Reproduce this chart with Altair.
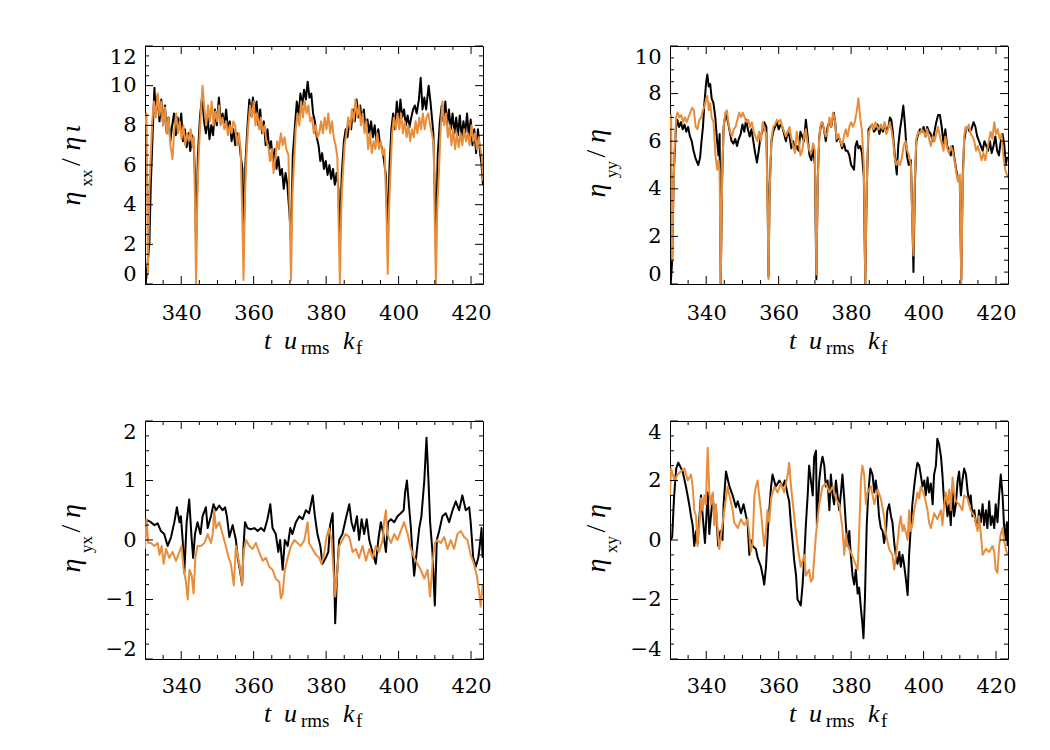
import altair as alt
import pandas as pd

# ---------------- data (t, value) ----------------
TL_BLACK = [(330.2,0.0),(330.7,1.0),(331.2,2.0),(331.6,5.0),(332.0,7.0),(332.6,9.9),(333.0,8.6),(333.5,9.5),(334.0,8.2),(334.5,9.3),(335.0,8.0),(335.5,9.0),(336.0,7.6),(336.5,8.4),(337.0,7.2),(337.5,8.0),(338.0,8.6),(338.5,7.5),(339.0,8.4),(339.5,7.8),(340.0,8.6),(340.5,7.2),(341.0,7.8),(341.5,6.9),(342.0,7.6),(342.5,6.7),(343.0,7.5),(343.5,6.8),(343.8,5.5),(344.1,2.0),(344.6,6.5),(345.2,8.5),(345.8,9.5),(346.3,8.2),(346.8,7.6),(347.3,8.4),(347.8,7.3),(348.3,8.0),(348.8,7.5),(349.3,8.8),(349.8,8.0),(350.4,9.4),(350.9,8.1),(351.4,8.6),(351.9,8.0),(352.4,8.8),(352.9,7.8),(353.4,8.2),(353.9,7.2),(354.4,7.8),(354.9,7.0),(355.4,7.6),(355.9,7.4),(356.4,6.5),(356.9,5.8),(357.2,2.0),(357.7,6.0),(358.3,8.0),(358.8,9.3),(359.3,8.5),(359.8,9.4),(360.3,8.6),(360.8,9.2),(361.3,8.0),(361.8,8.8),(362.3,7.6),(362.8,8.2),(363.3,7.0),(363.8,7.8),(364.3,6.8),(364.8,7.2),(365.3,6.2),(365.8,6.8),(366.3,5.8),(366.8,6.4),(367.3,5.5),(367.8,5.8),(368.3,4.8),(368.8,5.6),(369.3,5.0),(369.9,3.5),(370.3,2.3),(370.8,6.5),(371.4,8.0),(371.9,9.2),(372.4,8.5),(372.9,9.6),(373.4,9.0),(373.9,9.8),(374.4,9.3),(374.9,10.2),(375.4,9.4),(375.9,9.6),(376.4,8.6),(376.9,8.2),(377.4,7.4),(377.9,7.0),(378.4,6.2),(378.9,6.6),(379.4,5.8),(379.9,6.2),(380.4,5.5),(380.9,6.0),(381.4,5.3),(381.9,5.8),(382.4,5.0),(382.9,5.6),(383.4,4.8),(383.8,2.2),(384.3,5.5),(384.9,7.2),(385.4,7.8),(385.9,7.4),(386.4,8.2),(386.9,7.8),(387.4,8.8),(387.9,8.2),(388.4,9.3),(388.9,8.4),(389.4,9.0),(389.9,8.2),(390.4,8.8),(390.9,7.8),(391.4,8.3),(391.9,7.6),(392.4,8.2),(392.9,7.4),(393.4,8.0),(393.9,7.2),(394.4,7.8),(394.9,7.0),(395.4,6.9),(395.9,6.3),(396.5,5.5),(397.0,2.3),(397.5,6.0),(398.0,7.8),(398.5,8.6),(399.0,7.8),(399.5,9.2),(400.0,8.2),(400.5,9.3),(401.0,8.4),(401.5,8.8),(402.0,8.0),(402.5,8.5),(403.0,7.9),(403.5,8.4),(404.0,8.8),(404.5,9.0),(405.0,8.6),(405.6,9.3),(406.1,10.4),(406.6,8.8),(407.1,9.4),(407.6,8.8),(408.3,10.0),(408.8,9.2),(409.2,8.4),(409.6,7.6),(410.0,4.5),(410.3,2.0),(410.8,6.5),(411.4,8.2),(411.9,9.0),(412.4,8.2),(412.9,9.2),(413.4,8.0),(413.9,8.8),(414.4,7.8),(414.9,8.6),(415.4,7.6),(415.9,8.4),(416.4,7.5),(416.9,8.5),(417.4,7.4),(417.9,8.2),(418.4,7.6),(418.9,8.6),(419.4,7.4),(419.9,8.3),(420.4,7.0),(420.9,7.8),(421.4,6.6),(421.9,7.8),(422.4,6.8),(422.9,6.0),(423.3,5.0)]

TL_ORANGE = [(330.0,8.0),(330.4,8.6),(330.8,0.5),(331.2,4.8),(331.6,6.5),(332.0,8.2),(332.5,9.2),(333.0,8.4),(333.5,9.6),(334.0,8.5),(334.5,9.2),(335.0,8.0),(335.5,8.9),(336.0,7.6),(336.5,8.4),(337.0,7.0),(337.6,6.3),(338.1,7.8),(338.6,8.6),(339.1,7.6),(339.6,8.2),(340.1,7.3),(340.6,8.0),(341.1,7.0),(341.6,7.6),(342.1,7.2),(342.6,7.8),(343.1,7.0),(343.5,7.4),(343.8,4.0),(344.1,0.0),(344.5,5.0),(344.9,6.8),(345.4,8.6),(345.9,10.0),(346.4,8.8),(346.9,8.0),(347.4,9.0),(347.9,8.2),(348.4,9.2),(348.9,8.0),(349.4,8.7),(349.9,8.2),(350.4,9.0),(350.9,8.0),(351.4,8.4),(351.9,7.8),(352.4,8.2),(352.9,7.5),(353.4,8.0),(353.9,7.6),(354.4,8.2),(354.9,8.0),(355.4,7.0),(355.9,7.6),(356.4,6.8),(356.9,3.0),(357.2,0.2),(357.6,4.5),(358.0,6.5),(358.5,8.0),(359.0,9.0),(359.5,8.4),(360.0,9.2),(360.5,8.0),(361.0,8.6),(361.5,7.8),(362.0,8.4),(362.5,7.6),(363.0,8.0),(363.5,7.2),(364.0,7.0),(364.5,6.2),(365.0,6.8),(365.5,5.6),(366.0,6.4),(366.5,7.2),(367.0,6.8),(367.5,7.6),(368.0,7.0),(368.5,7.4),(369.0,6.8),(369.6,6.5),(370.0,3.0),(370.3,0.2),(370.7,4.5),(371.1,6.0),(371.6,7.8),(372.1,8.6),(372.6,8.0),(373.1,9.2),(373.6,8.4),(374.1,9.2),(374.6,8.6),(375.1,9.0),(375.6,8.2),(376.1,8.4),(376.6,7.6),(377.1,8.0),(377.6,7.4),(378.1,7.6),(378.6,8.2),(379.1,7.6),(379.6,8.4),(380.1,7.8),(380.6,8.6),(381.1,7.6),(381.6,8.2),(382.1,7.4),(382.6,7.0),(383.1,6.4),(383.5,2.5),(383.8,0.0),(384.2,4.0),(384.6,5.5),(385.1,7.0),(385.6,7.6),(386.1,8.4),(386.6,7.8),(387.1,8.8),(387.6,8.2),(388.1,9.3),(388.6,8.4),(389.1,9.0),(389.6,8.0),(390.1,8.6),(390.6,7.6),(391.1,8.2),(391.6,6.8),(392.1,7.6),(392.6,6.6),(393.1,7.2),(393.6,6.8),(394.1,7.6),(394.6,6.8),(395.1,7.2),(395.6,6.5),(396.1,6.8),(396.6,4.0),(397.0,0.5),(397.4,4.0),(397.8,5.8),(398.2,7.6),(398.7,8.4),(399.2,7.8),(399.7,8.6),(400.2,7.8),(400.7,8.6),(401.2,7.6),(401.7,8.2),(402.2,7.4),(402.7,8.0),(403.2,7.2),(403.7,7.8),(404.2,7.4),(404.7,8.2),(405.2,7.6),(405.7,8.4),(406.2,7.8),(406.7,8.6),(407.2,7.8),(407.7,8.4),(408.2,8.6),(408.7,8.0),(409.2,7.6),(409.7,7.0),(410.0,3.0),(410.3,0.0),(410.7,4.0),(411.1,5.5),(411.6,7.8),(412.1,9.2),(412.6,8.0),(413.1,8.6),(413.6,7.4),(414.1,8.0),(414.6,7.0),(415.1,7.8),(415.6,6.8),(416.1,7.6),(416.6,6.9),(417.1,7.6),(417.6,7.0),(418.1,7.8),(418.6,7.2),(419.1,7.6),(419.6,7.0),(420.1,8.0),(420.6,7.2),(421.1,7.6),(421.6,6.8),(422.1,7.4),(422.6,6.8),(423.0,6.4),(423.3,5.2)]

TR_BLACK = [(330.2,0.0),(330.6,1.0),(331.0,4.5),(331.6,6.5),(332.0,6.9),(332.5,6.6),(333.0,6.8),(333.5,6.5),(334.0,6.7),(334.5,6.4),(335.0,6.6),(335.5,6.2),(336.0,6.0),(336.5,5.6),(337.0,5.3),(337.8,5.0),(338.3,5.3),(338.7,6.0),(339.1,6.6),(339.5,7.6),(340.0,8.5),(340.3,8.8),(340.7,8.3),(341.1,8.4),(341.5,7.8),(342.0,7.6),(342.5,7.0),(343.0,6.0),(343.4,5.4),(343.7,6.3),(344.0,0.0),(344.4,4.5),(344.8,6.6),(345.4,7.2),(346.0,6.8),(346.5,6.4),(347.0,6.0),(347.5,5.9),(348.0,6.1),(348.5,5.8),(349.0,6.1),(349.5,6.3),(350.0,6.7),(350.5,6.4),(351.0,6.9),(351.5,6.5),(352.0,6.2),(352.5,6.5),(353.0,6.0),(353.5,5.5),(354.0,5.1),(354.5,5.6),(355.0,6.2),(355.5,6.4),(356.0,6.8),(356.6,6.6),(357.0,3.0),(357.2,0.3),(357.5,4.0),(358.0,6.0),(358.5,6.4),(359.0,6.6),(359.5,6.8),(360.0,6.5),(360.5,6.7),(361.0,6.6),(361.5,6.3),(362.0,6.0),(362.5,6.4),(363.0,6.2),(363.5,5.7),(364.0,6.0),(364.5,5.6),(365.0,5.8),(365.5,5.6),(366.0,6.4),(366.5,6.2),(367.0,6.0),(367.5,6.9),(368.0,6.2),(368.5,5.4),(369.0,5.2),(369.5,5.7),(370.0,5.0),(370.4,0.2),(370.8,4.5),(371.2,6.2),(371.6,6.6),(372.0,6.8),(372.5,6.5),(373.0,6.0),(373.5,6.6),(374.0,6.8),(374.5,6.6),(375.2,7.2),(375.6,6.8),(376.0,6.0),(376.5,6.2),(377.0,6.0),(377.5,5.7),(378.0,5.9),(378.5,5.6),(379.0,5.6),(379.5,5.4),(380.0,5.0),(380.8,4.8),(381.2,5.8),(381.6,6.0),(382.0,5.7),(382.5,5.8),(383.0,5.5),(383.5,4.5),(383.9,0.0),(384.3,4.0),(384.8,6.5),(385.3,6.6),(385.8,6.7),(386.3,6.4),(386.8,6.5),(387.3,6.7),(387.8,6.3),(388.3,6.6),(388.8,6.4),(389.3,6.7),(389.8,6.4),(390.3,6.6),(390.7,7.0),(391.1,6.9),(391.5,6.4),(392.0,5.5),(392.6,4.6),(393.0,5.8),(393.5,6.5),(394.0,7.0),(394.4,7.5),(394.9,6.6),(395.4,5.4),(395.9,5.0),(396.5,5.2),(397.0,2.0),(397.2,0.5),(397.6,4.2),(398.0,6.0),(398.5,6.3),(399.0,6.5),(399.5,6.4),(400.0,6.6),(400.5,6.2),(401.0,6.6),(401.5,6.4),(402.0,6.3),(402.5,6.0),(403.0,6.4),(403.5,6.8),(404.0,7.1),(404.5,7.1),(405.0,6.6),(405.5,5.9),(406.0,6.5),(406.5,5.8),(407.0,5.6),(407.5,5.4),(408.0,5.8),(408.5,5.3),(409.0,4.8),(409.5,4.4),(410.0,4.3),(410.4,0.2),(410.8,4.5),(411.2,6.0),(411.7,6.5),(412.2,6.6),(412.7,6.4),(413.2,6.5),(413.8,6.8),(414.3,6.6),(414.8,6.2),(415.3,6.0),(415.8,5.8),(416.3,5.6),(416.8,6.0),(417.3,5.8),(417.8,5.6),(418.3,6.0),(418.8,5.5),(419.3,5.8),(419.8,6.2),(420.3,5.6),(420.8,5.4),(421.3,6.0),(421.8,6.3),(422.3,5.8),(422.7,5.0),(423.0,5.3),(423.3,5.3)]

TR_ORANGE = [(330.0,6.5),(330.3,7.1),(330.6,1.0),(331.2,5.5),(331.7,7.0),(332.1,7.2),(332.6,7.0),(333.1,7.1),(333.6,6.8),(334.1,7.0),(334.6,6.8),(335.1,7.0),(335.6,7.2),(336.1,7.4),(336.6,7.3),(337.1,6.6),(337.6,6.5),(338.1,6.9),(338.6,7.0),(339.1,7.3),(339.6,7.5),(340.0,7.8),(340.3,7.9),(340.7,7.3),(341.1,7.6),(341.5,7.0),(342.0,6.8),(342.5,5.5),(343.0,4.8),(343.4,5.2),(343.7,4.7),(344.0,0.0),(344.4,4.5),(344.8,6.6),(345.3,7.2),(345.7,7.3),(346.1,6.8),(346.6,6.4),(347.1,6.2),(347.6,6.5),(348.1,6.6),(348.6,6.9),(349.1,7.2),(349.6,7.0),(350.1,7.2),(350.6,7.0),(351.1,6.8),(351.6,6.9),(352.1,6.6),(352.6,6.8),(353.1,6.4),(353.6,6.2),(354.1,6.0),(354.6,6.4),(355.1,6.0),(355.6,6.8),(356.1,6.5),(356.6,6.3),(357.0,2.5),(357.2,0.2),(357.5,3.8),(358.0,6.1),(358.5,6.6),(359.0,6.7),(359.5,6.9),(360.0,6.8),(360.5,6.9),(361.0,6.6),(361.5,6.4),(362.0,6.2),(362.5,6.4),(363.0,6.6),(363.5,6.1),(364.0,5.8),(364.5,5.5),(365.0,6.4),(365.5,6.0),(366.0,5.4),(366.5,5.6),(367.0,6.2),(367.5,6.5),(368.0,5.9),(368.5,5.6),(369.0,5.5),(369.5,5.9),(370.0,5.6),(370.4,0.4),(370.8,4.4),(371.2,6.2),(371.6,6.7),(372.0,6.8),(372.5,6.5),(373.0,6.2),(373.5,6.4),(374.0,7.0),(374.5,6.6),(375.0,7.2),(375.5,6.9),(376.0,6.1),(376.5,6.3),(377.0,6.0),(377.5,5.8),(378.0,6.2),(378.5,6.5),(379.0,6.2),(379.5,6.6),(380.0,6.8),(380.5,6.6),(381.0,6.8),(381.5,7.2),(382.0,7.8),(382.5,7.0),(383.0,6.4),(383.5,5.0),(383.9,0.0),(384.3,4.0),(384.7,6.3),(385.2,6.5),(385.7,6.7),(386.2,6.5),(386.7,6.8),(387.2,6.6),(387.7,6.5),(388.2,6.7),(388.7,6.5),(389.2,6.8),(389.7,6.3),(390.2,6.5),(390.7,6.8),(391.2,6.4),(391.6,6.0),(392.0,5.3),(392.5,5.0),(393.0,5.2),(393.5,5.0),(394.0,5.3),(394.5,5.8),(395.0,6.0),(395.5,5.6),(396.0,5.4),(396.5,5.0),(397.0,2.0),(397.2,1.2),(397.6,4.5),(398.0,6.1),(398.5,6.4),(399.0,6.3),(399.5,6.5),(400.0,6.4),(400.5,6.2),(401.0,6.5),(401.5,6.1),(402.0,5.8),(402.5,6.2),(403.0,6.0),(403.5,6.3),(404.0,6.6),(404.5,6.2),(405.0,5.9),(405.5,5.6),(406.0,6.2),(406.5,5.7),(407.0,5.5),(407.5,5.8),(408.0,5.6),(408.5,5.2),(409.0,4.7),(409.5,4.3),(410.0,4.6),(410.4,0.0),(410.8,4.2),(411.2,6.2),(411.6,6.6),(412.0,6.5),(412.5,6.7),(413.0,6.3),(413.5,6.2),(414.0,6.0),(414.5,5.6),(415.0,5.8),(415.5,5.5),(416.0,5.2),(416.5,5.5),(417.0,5.2),(417.5,5.6),(418.0,6.0),(418.5,6.4),(419.0,6.1),(419.5,6.8),(420.0,6.3),(420.5,6.5),(421.0,6.1),(421.5,6.3),(422.0,5.4),(422.5,4.8),(423.0,4.6),(423.3,4.5)]

BL_BLACK = [(330.0,0.3),(330.7,0.33),(331.65,0.3),(332.6,0.25),(333.5,0.28),(334.4,0.15),(335.3,0.1),(336.25,-0.1),(337.2,0.05),(338.1,0.3),(338.8,0.55),(339.5,0.3),(339.9,0.4),(340.4,0.0),(340.85,-0.55),(341.5,0.3),(342.2,0.68),(342.9,0.0),(343.3,-0.3),(343.8,0.1),(344.5,0.3),(345.3,0.1),(345.9,0.4),(346.8,0.55),(347.3,0.2),(348.2,0.4),(348.9,0.6),(349.6,0.5),(350.5,0.58),(351.4,0.5),(352.1,0.55),(352.6,0.4),(353.3,0.05),(354.2,0.25),(355.1,0.0),(355.6,-0.3),(356.2,-0.5),(356.8,-0.75),(357.2,-0.1),(357.6,0.3),(358.3,0.2),(359.2,0.18),(360.2,0.2),(361.1,0.15),(362.0,0.2),(362.9,0.15),(363.8,0.35),(364.6,0.6),(365.2,0.2),(366.1,0.1),(366.8,-0.2),(367.3,0.0),(368.0,-0.5),(368.6,0.0),(369.4,-0.1),(370.1,0.2),(370.7,0.1),(371.65,0.3),(372.6,0.4),(373.5,0.35),(374.4,0.5),(375.3,0.45),(376.3,0.75),(376.9,0.4),(377.6,0.1),(378.4,-0.1),(379.0,-0.4),(379.9,-0.3),(380.6,-0.2),(381.1,0.25),(381.8,0.45),(382.2,-0.5),(382.5,-1.4),(383.0,-0.6),(383.6,0.0),(384.5,0.1),(385.4,0.35),(386.4,0.6),(387.0,0.3),(387.7,0.15),(388.5,0.4),(389.1,0.0),(389.8,0.35),(390.5,0.1),(391.2,0.35),(391.9,0.0),(392.8,-0.2),(393.7,-0.4),(394.4,0.0),(395.1,0.3),(395.8,0.1),(396.5,-0.2),(397.1,0.3),(397.9,0.35),(398.8,0.3),(399.7,0.4),(400.6,0.45),(401.4,0.5),(401.8,0.8),(402.3,1.0),(402.7,0.7),(403.4,0.2),(403.8,-0.2),(404.3,-0.6),(405.0,-0.2),(405.7,0.2),(406.3,0.4),(407.1,1.0),(407.7,1.72),(408.25,1.0),(408.7,0.3),(409.35,-0.2),(410.0,-1.1),(410.55,0.0),(411.2,0.15),(412.1,0.4),(413.0,0.45),(413.95,0.3),(414.9,0.5),(415.8,0.65),(416.7,0.5),(417.6,0.75),(418.55,0.5),(419.5,0.55),(419.9,0.3),(420.6,-0.3),(421.3,-0.45),(422.0,-0.3),(422.5,-0.05),(422.9,0.2),(423.2,-0.3)]

BL_ORANGE = [(330.0,-0.15),(330.4,0.35),(330.9,-0.05),(331.65,-0.05),(332.6,-0.1),(333.5,-0.05),(334.0,-0.25),(334.6,-0.1),(335.15,-0.4),(335.8,-0.15),(336.7,-0.3),(337.6,-0.2),(338.55,-0.35),(339.5,-0.2),(340.1,-0.1),(340.7,-0.5),(341.3,-0.7),(341.8,-1.0),(342.3,-0.5),(342.9,-0.6),(343.4,-0.9),(343.9,-0.3),(344.5,-0.1),(345.45,-0.1),(346.4,-0.05),(347.3,0.1),(348.2,-0.05),(348.7,0.1),(349.1,0.5),(349.6,0.2),(350.5,0.3),(351.4,0.1),(352.3,-0.1),(353.1,-0.3),(353.7,-0.4),(354.5,-0.76),(355.1,-0.1),(355.7,-0.3),(356.3,-0.5),(356.8,-0.75),(357.2,-0.2),(357.9,0.0),(358.8,-0.1),(359.7,-0.15),(360.6,-0.05),(361.5,-0.2),(362.5,-0.35),(363.4,-0.3),(364.3,-0.45),(365.2,-0.5),(366.1,-0.65),(367.05,-0.7),(367.5,-0.98),(368.0,-0.9),(368.6,-0.5),(369.4,-0.3),(370.3,-0.1),(371.2,0.0),(372.1,-0.05),(373.0,-0.1),(374.0,0.0),(374.9,0.3),(375.3,-0.05),(376.25,-0.15),(377.2,-0.25),(378.1,-0.3),(378.7,-0.4),(379.4,-0.25),(380.1,0.05),(380.8,0.2),(381.5,0.0),(382.0,-0.5),(382.5,-0.95),(383.0,-0.6),(383.6,-0.1),(384.5,0.0),(385.4,0.1),(386.4,0.05),(387.3,-0.2),(388.2,-0.15),(389.1,-0.3),(390.05,-0.1),(391.0,-0.35),(391.9,-0.15),(392.8,-0.3),(393.7,-0.1),(394.6,-0.2),(395.6,0.0),(396.0,0.3),(396.5,0.5),(396.9,0.1),(397.9,-0.05),(398.8,0.1),(399.7,0.0),(400.6,0.15),(401.5,0.3),(402.5,0.1),(403.4,-0.15),(404.3,-0.3),(405.2,-0.4),(406.1,-0.5),(407.1,-0.65),(408.0,-0.5),(408.7,-0.95),(409.35,-0.4),(410.0,-0.05),(410.7,0.0),(411.65,-0.05),(412.6,0.05),(413.5,-0.15),(414.4,0.0),(415.3,-0.15),(416.25,0.1),(417.2,0.15),(418.1,0.05),(419.0,0.0),(419.9,-0.25),(420.8,-0.4),(421.6,-0.6),(422.3,-0.9),(422.65,-1.12),(423.2,-0.75)]

BR_BLACK = [(330.2,0.0),(330.6,0.1),(331.1,1.4),(331.7,2.4),(332.3,2.6),(333.5,2.3),(334.4,1.8),(335.3,1.2),(335.8,0.8),(336.25,0.5),(336.7,-0.2),(337.2,0.3),(337.6,-0.1),(338.55,1.5),(339.65,-0.1),(340.4,1.6),(340.85,0.2),(341.8,1.5),(342.2,0.8),(342.7,1.0),(343.3,-0.2),(343.9,0.3),(344.5,0.0),(344.8,1.2),(345.45,2.3),(346.4,1.8),(347.3,1.5),(348.2,1.1),(348.7,1.3),(349.6,0.9),(350.3,1.2),(351.0,0.8),(351.4,0.6),(351.9,-0.5),(352.3,0.0),(352.8,-0.2),(353.7,-0.3),(354.2,-0.6),(355.1,-0.9),(355.6,-1.2),(356.0,-1.5),(356.5,-0.9),(357.1,0.5),(357.9,1.8),(358.3,2.2),(359.2,1.8),(360.2,2.0),(361.1,1.8),(361.7,2.0),(362.5,1.5),(362.9,1.3),(363.4,0.5),(363.8,0.0),(364.3,-0.7),(364.8,-1.2),(365.2,-2.0),(365.7,-2.1),(366.1,-2.2),(366.6,-1.5),(367.1,-0.5),(367.5,0.5),(368.0,1.5),(368.4,2.5),(368.9,2.0),(369.4,1.5),(369.8,2.8),(370.3,3.0),(370.55,0.5),(371.2,2.0),(371.65,2.5),(372.1,2.8),(372.6,2.5),(373.0,1.8),(373.5,2.0),(374.0,1.0),(374.4,2.2),(374.9,1.5),(375.3,1.2),(375.8,2.0),(376.25,1.5),(376.7,1.0),(377.2,1.6),(377.6,2.2),(378.1,1.4),(378.55,0.5),(379.0,-0.2),(379.5,0.3),(379.9,-0.5),(380.4,-1.2),(380.85,-1.5),(381.3,-1.0),(381.8,-1.8),(382.2,-1.6),(382.7,-2.3),(383.1,-2.8),(383.4,-3.3),(383.8,-2.0),(384.3,0.5),(384.7,1.5),(385.3,2.4),(385.9,2.2),(386.4,1.6),(386.8,2.0),(387.3,1.5),(387.7,0.8),(388.2,0.4),(388.7,0.3),(389.1,-0.1),(389.6,0.3),(390.0,1.0),(390.5,1.2),(391.0,0.8),(391.4,0.6),(391.9,-0.1),(392.3,-0.5),(392.8,-0.8),(393.3,-0.4),(393.7,-0.9),(394.2,-0.5),(394.6,-0.8),(395.1,-1.3),(395.6,-1.85),(396.0,-0.5),(396.5,0.5),(396.9,1.2),(397.4,1.8),(397.9,2.3),(398.3,2.6),(398.8,2.5),(399.2,2.2),(399.7,1.8),(400.2,2.0),(400.6,1.5),(401.1,2.1),(401.5,1.6),(402.0,1.9),(402.5,1.2),(402.9,2.2),(403.4,2.5),(403.8,3.4),(404.3,3.2),(404.8,2.8),(405.2,2.2),(405.7,1.2),(406.1,1.5),(406.6,0.8),(407.1,1.2),(407.5,0.5),(408.0,1.8),(408.4,0.8),(408.9,1.2),(409.4,2.0),(409.8,2.3),(410.3,1.5),(410.7,2.0),(411.2,2.4),(411.7,2.2),(412.1,1.7),(412.6,1.2),(413.0,1.5),(413.5,0.8),(414.0,1.0),(414.4,0.6),(414.9,0.4),(415.3,1.0),(415.8,0.6),(416.3,1.2),(416.7,0.5),(417.2,1.0),(417.6,0.4),(418.1,1.3),(418.55,0.5),(419.0,0.8),(419.5,0.4),(419.9,1.2),(420.4,0.6),(420.85,1.5),(421.3,2.2),(421.8,1.5),(422.2,0.5),(422.7,0.0),(423.0,0.6),(423.2,-0.2)]

BR_ORANGE = [(330.0,1.5),(330.3,2.4),(331.2,2.0),(332.1,2.2),(333.0,2.3),(334.0,2.4),(334.9,2.0),(335.8,2.2),(336.25,1.8),(336.7,1.0),(337.2,0.8),(337.6,-0.2),(338.1,0.5),(338.55,1.4),(339.0,1.0),(339.5,1.5),(339.9,1.2),(340.4,3.1),(340.85,1.6),(341.3,1.2),(341.8,1.6),(342.2,0.5),(342.7,1.2),(343.1,0.4),(343.6,-0.3),(344.1,0.2),(345.0,1.0),(345.9,1.8),(346.4,1.5),(347.3,1.0),(347.7,0.6),(348.7,0.4),(349.6,0.7),(350.5,0.5),(351.4,0.7),(351.9,0.2),(352.3,-0.4),(352.8,-0.1),(353.3,1.5),(353.7,1.8),(354.2,2.0),(354.6,1.5),(355.1,1.0),(355.6,0.3),(356.0,-0.2),(356.5,0.3),(356.9,1.0),(357.4,0.6),(357.9,1.4),(358.8,1.8),(359.7,1.6),(360.6,1.9),(361.5,1.6),(362.5,2.2),(362.9,2.6),(363.4,1.8),(364.3,0.8),(365.2,-0.2),(366.1,-0.9),(367.1,-0.5),(367.5,-1.2),(368.4,-1.0),(368.9,-1.4),(369.4,-1.3),(370.3,0.2),(371.2,1.2),(372.1,1.8),(373.0,1.9),(374.0,1.6),(374.9,1.8),(375.8,1.4),(376.7,1.2),(377.6,0.4),(378.1,-0.5),(378.55,0.2),(379.0,-0.2),(379.9,-0.4),(380.85,-0.7),(381.8,-1.0),(382.2,0.2),(382.7,2.0),(383.1,2.5),(383.6,2.2),(384.1,1.2),(384.5,1.6),(385.45,1.8),(386.4,1.2),(387.3,1.7),(388.2,1.4),(389.1,0.8),(389.6,0.2),(390.5,-0.3),(391.4,-0.5),(391.9,-1.0),(392.3,-0.6),(392.8,-0.1),(393.3,0.5),(393.7,0.8),(394.2,0.3),(394.6,0.5),(395.6,0.0),(396.0,1.0),(396.5,0.3),(396.9,0.5),(397.4,1.0),(397.9,1.3),(398.3,1.6),(398.8,1.4),(399.2,1.8),(400.2,1.5),(401.1,1.0),(401.5,0.6),(402.0,0.4),(402.9,0.9),(403.8,0.7),(404.8,1.0),(405.2,0.5),(405.7,1.2),(406.1,1.6),(406.6,1.2),(407.1,1.7),(407.5,1.0),(408.0,2.1),(408.4,1.6),(408.9,1.3),(409.8,1.2),(410.7,1.0),(411.2,1.5),(412.1,1.4),(413.0,1.0),(414.0,0.8),(414.9,0.3),(415.3,0.8),(415.8,0.2),(416.3,-0.5),(417.2,-0.3),(418.1,-0.4),(419.0,-0.2),(419.5,-0.4),(419.9,-1.0),(420.4,-1.1),(420.85,-0.2),(421.3,0.2),(421.8,0.4),(422.2,0.0),(422.7,-0.3),(423.15,-0.5)]

X_DOMAIN = [330, 423.3]
X_MAJOR = [340, 360, 380, 400, 420]
X_MINOR = [335, 345, 350, 355, 365, 370, 375, 385, 390, 395, 405, 410, 415]

TL_YMAJOR = [0, 2, 4, 6, 8, 10, 12]
TR_YMAJOR = [0, 2, 4, 6, 8, 10]
BL_YMAJOR = [-2, -1, 0, 1, 2]
BR_YMAJOR = [-4, -2, 0, 2, 4]
TL_YMINOR = [i * 0.5 for i in range(0, 25) if i % 4]
TR_YMINOR = [i * 0.5 for i in range(0, 21) if i % 4]
BL_YMINOR = [-2 + i * 0.25 for i in range(0, 17) if i % 4]
BR_YMINOR = [-4 + i * 0.5 for i in range(0, 17) if i % 4]

# ---------------- styling ----------------
W, H = 338, 238
ORANGE = "#e88d3b"
NUM_FONT = "DejaVu Serif"
TXT_FONT = "Liberation Serif"
MAJ, MIN = 8, 4
ONE = pd.DataFrame({"k": [0]})


def txt(s, x, y, size, italic, angle=None, align="left"):
    kw = dict(text=s, font=TXT_FONT, fontSize=size, align=align,
              baseline="alphabetic", color="black")
    if italic:
        kw["fontStyle"] = "italic"
    if angle is not None:
        kw["angle"] = angle
    return alt.Chart(ONE).mark_text(**kw).encode(x=alt.value(x), y=alt.value(y))


def panel(black, orange, ydom, ymaj, ymin, ytitle, xpad, tbase):
    xs = alt.Scale(domain=X_DOMAIN, nice=False, zero=False)
    ys = alt.Scale(domain=ydom, nice=False, zero=False)
    xax = alt.Axis(values=X_MAJOR, format="d", title=None, ticks=False, tickSize=0,
                   domain=False, grid=False, labelPadding=xpad, labelFlush=False,
                   labelOverlap=False)
    yax = alt.Axis(values=ymaj, format="d", title=None, ticks=False, tickSize=0,
                   domain=False, grid=False, labelPadding=9, labelFlush=True,
                   labelOverlap=False)

    def X():
        return alt.X("t:Q", scale=xs, axis=xax)

    def Y():
        return alt.Y("v:Q", scale=ys, axis=yax)

    layers = []
    for pairs, col in ((black, "black"), (orange, ORANGE)):
        d = pd.DataFrame(pairs, columns=["t", "v"])
        layers.append(alt.Chart(d).mark_line(color=col, strokeWidth=2, clip=True,
                                             strokeJoin="round").encode(x=X(), y=Y()))
    for vals, L in ((X_MAJOR, MAJ), (X_MINOR, MIN)):
        d = pd.DataFrame({"t": vals})
        layers.append(alt.Chart(d).mark_rule(color="black", strokeWidth=1).encode(
            x=X(), y=alt.value(H), y2=alt.value(H - L)))
        layers.append(alt.Chart(d).mark_rule(color="black", strokeWidth=1).encode(
            x=X(), y=alt.value(0), y2=alt.value(L)))
    for vals, L in ((ymaj, MAJ), (ymin, MIN)):
        d = pd.DataFrame({"v": vals})
        layers.append(alt.Chart(d).mark_rule(color="black", strokeWidth=1).encode(
            y=Y(), x=alt.value(0), x2=alt.value(L)))
        layers.append(alt.Chart(d).mark_rule(color="black", strokeWidth=1).encode(
            y=Y(), x=alt.value(W), x2=alt.value(W - L)))

    # x-axis title: t u_rms k_f
    layers += [
        txt("t", 119, H + tbase, 26, True),
        txt("u", 139, H + tbase, 26, True),
        txt("rms", 156, H + tbase + 5, 19, False),
        txt("k", 198, H + tbase, 26, True),
        txt("f", 211, H + tbase + 5, 19, False),
    ]
    # y-axis title, rotated; each glyph centred at its position
    for s, yc, sub, ital in ytitle:
        if sub:
            layers.append(txt(s, -53, yc, 17, ital, angle=270, align="center"))
        else:
            layers.append(txt(s, -65, yc, 28, ital, angle=270, align="center"))
    return alt.layer(*layers).properties(width=W, height=H)


TL_TITLE = [("η", 152.5, False, True), ("xx", 132, True, False), ("/", 116, False, False),
            ("η", 97.5, False, True), ("ι", 82.5, False, True)]


def std_title(sub):
    return [("η", 144.5, False, True), (sub, 123.5, True, False), ("/", 107.5, False, False),
            ("η", 90, False, True)]


p1 = panel(TL_BLACK, TL_ORANGE, [0, 12], TL_YMAJOR, TL_YMINOR, TL_TITLE, 18, 65)
p2 = panel(TR_BLACK, TR_ORANGE, [0, 10], TR_YMAJOR, TR_YMINOR, std_title("yy"), 18, 65)
p3 = panel(BL_BLACK, BL_ORANGE, [-2, 2], BL_YMAJOR, BL_YMINOR, std_title("yx"), 16.5, 63)
p4 = panel(BR_BLACK, BR_ORANGE, [-4, 4], BR_YMAJOR, BR_YMINOR, std_title("xy"), 16.5, 63)

chart = alt.concat(p1, p2, p3, p4, columns=2,
                   spacing={"row": 137, "column": 187}, bounds="flush").properties(
    padding={"left": 49, "top": 37, "right": 5, "bottom": 5},
    background="white",
).configure_view(stroke="black", strokeWidth=1).configure_axis(
    labelFont=NUM_FONT, labelFontSize=21, labelColor="black"
)

chart.save("out.html", embed_options={"renderer": "svg", "actions": False})
